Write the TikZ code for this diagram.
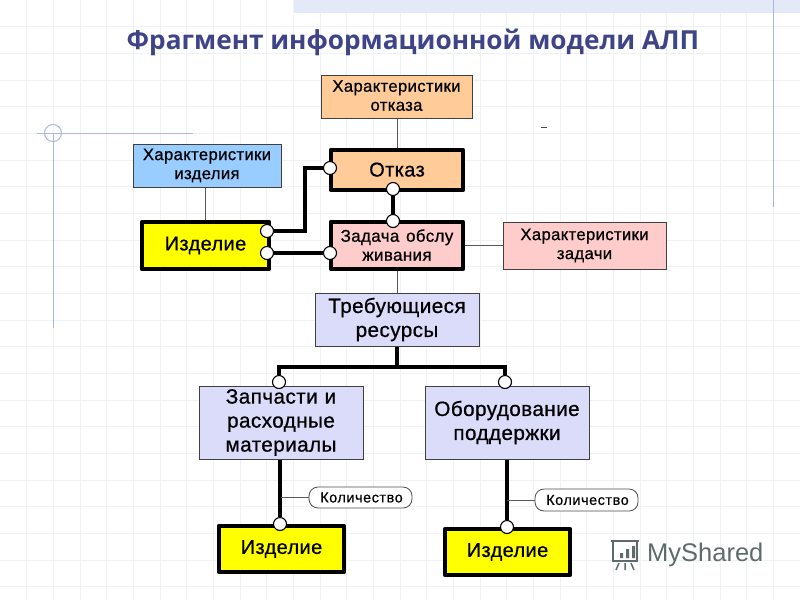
\documentclass[tikz,border=0pt]{standalone}
\usepackage{fontspec}
\setmainfont{Liberation Sans}
\newfontfamily\labfont[FakeBold=0.7,LetterSpace=2]{Liberation Sans}
\newfontfamily\smallfont[FakeBold=0.5,LetterSpace=4]{Liberation Sans}
\newfontfamily\titlefont{Open Sans}
\definecolor{titleblue}{HTML}{3F4488}
\definecolor{gridc}{HTML}{EEF2F4}
\definecolor{rulec}{HTML}{A9B8DE}
\definecolor{bandc}{HTML}{E3E9F6}
\definecolor{orangef}{HTML}{FFCC99}
\definecolor{bluef}{HTML}{99CCFF}
\definecolor{pinkf}{HTML}{FFCCCC}
\definecolor{lilacf}{HTML}{DADCFA}
\definecolor{yellowf}{HTML}{FFFF00}
\definecolor{logoc}{HTML}{5F6B6B}
\tikzset{
  x=1pt,y=-1pt,
  attrbox/.style={draw=black!75,line width=1pt,inner sep=0pt,align=center,font=\labfont\fontsize{16.7}{19}\selectfont},
  entity/.style={draw=black,line width=4.5pt,line join=round,inner sep=0pt,align=center,font=\labfont\fontsize{20}{19}\selectfont},
  resbox/.style={draw=black!75,line width=1pt,fill=lilacf,inner sep=0pt,align=center,font=\labfont\fontsize{20.7}{24}\selectfont},
  port/.style={circle,draw=black,line width=1.1pt,fill=white,minimum size=13pt,inner sep=0pt},
  thick link/.style={line width=4.5pt,draw=black,line join=miter},
  thin link/.style={line width=1pt,draw=black!65},
  tag/.style={draw=black!70,line width=.8pt,fill=white,rounded corners=9pt,inner sep=0pt,font=\smallfont\fontsize{14.4}{15}\selectfont},
}
\newcommand{\boxat}[7]{\node[#1,fill=#2,minimum width=#5-#3,minimum height=#6-#4,text width=#5-#3] (#7) at ({(#3+#5)/2},{(#4+#6)/2})}
\begin{document}
\begin{tikzpicture}
\useasboundingbox (0,0) rectangle (800,600);
\fill[white] (0,0) rectangle (800,600);
% background grid
\foreach \i in {1,...,29} \draw[gridc,line width=.8pt] ({\i*26.67},0) -- ({\i*26.67},600);
\foreach \i in {1,...,22} \draw[gridc,line width=.8pt] (0,{\i*26.67}) -- (800,{\i*26.67});
% slide decorations
\fill[bandc] (294,0) rectangle (800,13);
\draw[rulec,line width=1pt] (773,0) -- (773,207);
\draw[rulec,line width=1pt] (37,133) -- (193,133);
\draw[rulec,line width=1pt] (53,133) -- (53,328);
\draw[rulec,line width=1pt] (53,133) circle (8.5);
\draw[black!70,line width=.8pt] (541,127.5) -- (547,127.5);
% title
\node[font=\titlefont\bfseries\fontsize{26.2}{28}\selectfont,text=titleblue,inner sep=0pt] (title) at (413,42) {Фрагмент информационной модели АЛП};
% attribute boxes
\boxat{attrbox}{orangef}{321}{75}{472}{118}{co} {\raisebox{2pt}{Характеристики}\\\raisebox{2pt}{отказа}};
\boxat{attrbox}{bluef}{133}{144}{281}{187}{ci} {\raisebox{2pt}{Характеристики}\\\raisebox{2pt}{изделия}};
\boxat{attrbox}{pinkf}{503}{222}{666}{269}{ct} {\raisebox{2pt}{Характеристики}\\\raisebox{2pt}{задачи}};
% entities
\boxat{entity}{orangef}{331}{150}{463}{190}{fail} {\raisebox{1pt}{Отказ}};
\boxat{entity}{pinkf}{331}{222}{463}{269}{task} {\fontsize{17}{19}\selectfont\raisebox{1pt}{Задача обслу}\\\raisebox{1pt}{живания}};
\boxat{entity}{yellowf}{142}{222}{269}{269}{item} {\raisebox{-1pt}{Изделие}};
\boxat{resbox}{lilacf}{315}{293}{479}{346}{res} {Требующиеся\\ресурсы};
\boxat{resbox}{lilacf}{199}{386}{363}{459}{parts} {Запчасти и\\расходные\\материалы};
\boxat{resbox}{lilacf}{425}{386}{589}{459}{equip} {Оборудование\\поддержки};
\boxat{entity}{yellowf}{219}{526}{344}{572}{itemA} {Изделие};
\boxat{entity}{yellowf}{445}{529}{570}{575}{itemB} {Изделие};
% tags
\node[tag,minimum width=103,minimum height=21] (qa) at (360.5,497.5) {\hspace{2pt}Количество};
\node[tag,minimum width=103,minimum height=22] (qb) at (586.5,500) {\hspace{2pt}Количество};
% thin connectors
\draw[thin link] (co.south -| fail.north) -- (fail.north);
\draw[thin link] (ci.south -| item.north) -- (item.north);
\draw[thin link] (task.east) -- (ct.west);
\draw[thin link] (task.south) -- (res.north -| task.south);
% ports
\node[port] (pf1) at (330,168) {};
\node[port] (pf2) at (393,189) {};
\node[port] (pt1) at (393,221) {};
\node[port] (pt2) at (330,253) {};
\node[port] (pi1) at (267,231) {};
\node[port] (pi2) at (267,253) {};
\node[port] (pp) at (279,382) {};
\node[port] (pe) at (505,382) {};
\node[port] (pa) at (280,524) {};
\node[port] (pb) at (507,527) {};
% junctions
\coordinate (bend1) at (305,231);
\coordinate (bend2) at (305,168);
\coordinate (bus) at (397,367);
\coordinate (busL) at (279,367);
\coordinate (busR) at (505,367);
\coordinate (qja) at (281,497.5);
\coordinate (qjb) at (507,500);
% thick connectors
\draw[thick link] (pi1) -- (bend1) -- (bend2) -- (pf1);
\draw[thick link] (pi2) -- (pt2);
\draw[thick link] (pf2) -- (pt1);
\draw[thick link] (res.south) -- (bus);
\draw[thick link] (pp) -- (busL) -- (busR) -- (pe);
\draw[thick link] (parts.south -| pa) -- (pa);
\draw[thick link] (equip.south -| pb) -- (pb);
\draw[thin link] (qja) -- (qa.west);
\draw[thin link] (qjb) -- (qb.west);
% logo
\node[font=\fontsize{25.5}{30}\selectfont,text=logoc,anchor=west,inner sep=0pt] (logo) at (647,555) {MyShared};
\draw[logoc,line width=2pt] (611,541) -- (639,541) (613,541) -- (613,561) -- (637,561) -- (637,541);
\fill[logoc] (620,553) rectangle (623,558) (626,549) rectangle (629,558) (632,546) rectangle (635,558);
\draw[logoc,line width=1.5pt] (619,563) -- (616,570) (625,563) -- (625,570) (631,563) -- (634,570);
\end{tikzpicture}
\end{document}
